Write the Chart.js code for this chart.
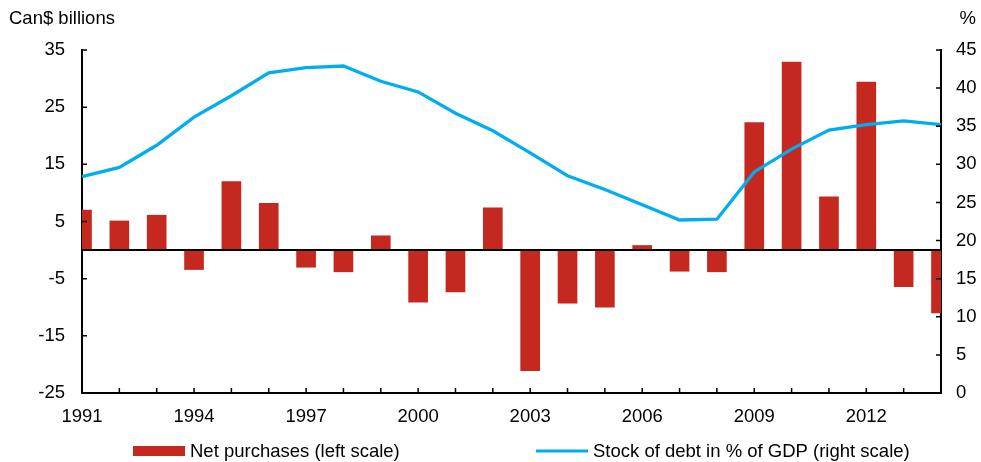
<!DOCTYPE html>
<html>
<head>
<meta charset="utf-8">
<script src="https://cdn.jsdelivr.net/npm/chart.js@4.4.1/dist/chart.umd.min.js"></script>
<style>
  html, body { margin: 0; padding: 0; background: #fff; }
  canvas { display: block; }
</style>
</head>
<body>
<canvas id="chart" width="981" height="462"></canvas>
<script>
// Government of Canada bond net purchases and stock of debt
const years = [1991, 1992, 1993, 1994, 1995, 1996, 1997, 1998, 1999, 2000, 2001, 2002,
               2003, 2004, 2005, 2006, 2007, 2008, 2009, 2010, 2011, 2012, 2013, 2014];
const netPurchases = [7.0, 5.1, 6.1, -3.4, 12.0, 8.2, -3.0, -3.8, 2.5, -9.1, -7.3, 7.4,
                      -21.1, -9.3, -10.0, 0.8, -3.7, -3.8, 22.3, 32.9, 9.3, 29.4, -6.4, -11.0];
const debtShare = [28.4, 29.6, 32.5, 36.2, 39.0, 42.0, 42.7, 42.9, 40.9, 39.5, 36.7, 34.4,
                   31.5, 28.5, 26.7, 24.7, 22.7, 22.8, 29.0, 32.0, 34.5, 35.2, 35.7, 35.2];
const leftTicks = { min: -25, max: 35, step: 10 };
const rightTicks = { min: 0, max: 45, step: 5 };
const labelEvery = 3;

const RED = '#C4281F';
const BLUE = '#00AEEF';
const FONT = '"Liberation Sans", Arial, sans-serif';
const FS = 18.5;

// Inward tick marks, zero line and axis titles / legend
const frame = {
  id: 'frame',
  afterDatasetsDraw(chart) {
    const { ctx, chartArea: a, scales } = chart;
    const len = 5;
    ctx.save();
    ctx.strokeStyle = '#000';
    ctx.lineWidth = 2;
    // zero line on the left scale
    const y0 = scales.y.getPixelForValue(0);
    ctx.beginPath();
    ctx.moveTo(a.left, y0);
    ctx.lineTo(a.right, y0);
    ctx.stroke();
    ctx.lineWidth = 1.5;
    ctx.beginPath();
    scales.x.ticks.forEach((t, i) => {
      const x = scales.x.getPixelForTick(i);
      ctx.moveTo(x, a.bottom);
      ctx.lineTo(x, a.bottom - len);
    });
    scales.y.ticks.forEach((t, i) => {
      const y = scales.y.getPixelForTick(i);
      ctx.moveTo(a.left, y);
      ctx.lineTo(a.left + len, y);
    });
    scales.y1.ticks.forEach((t, i) => {
      const y = scales.y1.getPixelForTick(i);
      ctx.moveTo(a.right, y);
      ctx.lineTo(a.right - len, y);
    });
    ctx.stroke();
    ctx.restore();
  },
  afterDraw(chart) {
    const { ctx } = chart;
    ctx.save();
    ctx.fillStyle = '#000';
    ctx.font = FS + 'px ' + FONT;
    ctx.textBaseline = 'alphabetic';
    ctx.textAlign = 'left';
    ctx.fillText('Can$ billions', 9, 24);
    ctx.textAlign = 'right';
    ctx.fillText('%', 976, 24);

    // legend
    const ly = 451;
    const ds = chart.data.datasets;
    ctx.textAlign = 'left';
    ctx.textBaseline = 'middle';
    ctx.fillStyle = ds[1].backgroundColor;
    ctx.fillRect(133, ly - 5, 52, 10);
    ctx.fillStyle = '#000';
    ctx.fillText(ds[1].label, 190, ly + 1);
    ctx.strokeStyle = ds[0].borderColor;
    ctx.lineWidth = 3;
    ctx.beginPath();
    ctx.moveTo(536, ly);
    ctx.lineTo(588, ly);
    ctx.stroke();
    ctx.fillText(ds[0].label, 593, ly + 1);
    ctx.restore();
  }
};

new Chart(document.getElementById('chart'), {
  data: {
    labels: years.map(String),
    datasets: [
      {
        type: 'line',
        label: 'Stock of debt in % of GDP (right scale)',
        data: debtShare,
        yAxisID: 'y1',
        borderColor: BLUE,
        borderWidth: 3.3,
        pointRadius: 0,
        tension: 0,
        clip: 3,
        order: 0
      },
      {
        type: 'bar',
        label: 'Net purchases (left scale)',
        data: netPurchases,
        yAxisID: 'y',
        backgroundColor: RED,
        barThickness: 19,
        clip: 0,
        order: 1
      }
    ]
  },
  options: {
    responsive: false,
    devicePixelRatio: 1,
    animation: false,
    layout: { padding: { left: 0, right: 0, top: 50, bottom: 0 } },
    plugins: { legend: { display: false }, tooltip: { enabled: false } },
    scales: {
      x: {
        type: 'category',
        offset: false,
        grid: { display: false, drawTicks: false, offset: false },
        border: { display: true, color: '#000', width: 2 },
        ticks: {
          autoSkip: false,
          maxRotation: 0,
          padding: 13,
          color: '#000',
          font: { family: FONT, size: FS },
          callback(value, index) {
            return index % labelEvery === 0 ? this.getLabelForValue(value) : '';
          }
        },
        afterFit(s) { s.height = 69; }
      },
      y: {
        position: 'left',
        min: leftTicks.min,
        max: leftTicks.max,
        grid: { display: false, drawTicks: false },
        border: { display: true, color: '#000', width: 2 },
        ticks: { stepSize: leftTicks.step, padding: 17, color: '#000', font: { family: FONT, size: FS } },
        afterFit(s) { s.width = 82; }
      },
      y1: {
        position: 'right',
        min: rightTicks.min,
        max: rightTicks.max,
        grid: { display: false, drawTicks: false },
        border: { display: true, color: '#000', width: 2 },
        ticks: { stepSize: rightTicks.step, padding: 15, color: '#000', font: { family: FONT, size: FS } },
        afterFit(s) { s.width = 40; }
      }
    }
  },
  plugins: [frame]
});
</script>
</body>
</html>
